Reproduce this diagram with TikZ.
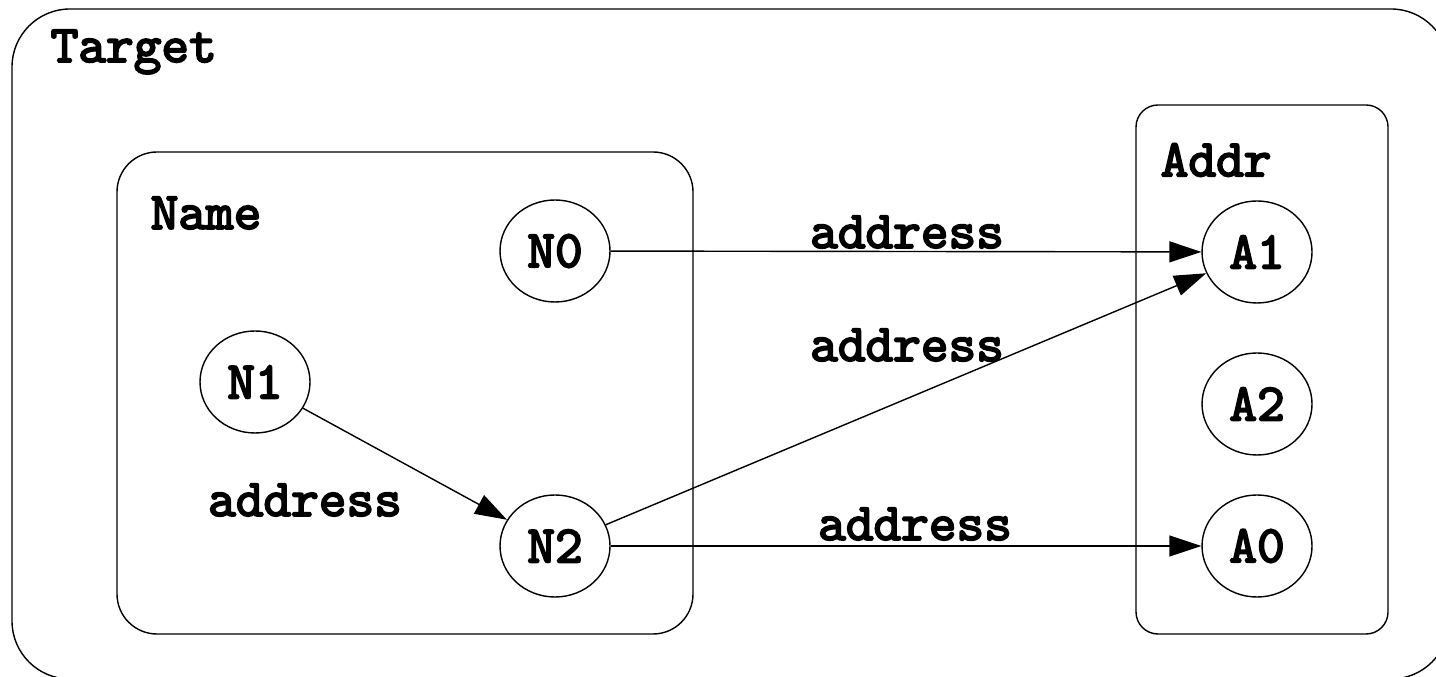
\documentclass[tikz,border=0pt]{standalone}
\usepackage{fontspec}
\newfontfamily\heavytt{lmmono10-regular.otf}[FakeBold=3.5]
\usetikzlibrary{arrows.meta,shapes.geometric}

\begin{document}
\begin{tikzpicture}[>={Triangle[length=3.2mm,width=2.1mm]},line width=.4pt,
  font=\heavytt\fontsize{15}{18}\selectfont,
  atom/.style={draw,ellipse,minimum width=1.1cm,minimum height=1.02cm,inner sep=0pt},
  tag/.style={anchor=west,inner sep=0pt},
  link/.style={->}]
 \useasboundingbox (0,0) rectangle (14.36,6.76);
 % signature boxes
 \draw[rounded corners=5.8mm] (0.12,-0.03) rectangle (14.49,6.67);
 \draw[rounded corners=4mm] (1.17,0.42) rectangle (6.93,5.24);
 \draw[rounded corners=2.2mm] (11.36,0.42) rectangle (13.88,5.71);
 \node[tag] (target) at (0.50,6.24) {Target};
 \node[tag] (name) at (1.50,4.63) {Name};
 \node[tag] (addr) at (11.60,5.16) {Addr};
 % atoms
 \node[atom] (N0) at (5.55,4.25) {N0};
 \node[atom] (N1) at (2.55,2.94) {N1};
 \node[atom] (N2) at (5.55,1.30) {N2};
 \node[atom] (A1) at (12.57,4.24) {A1};
 \node[atom] (A2) at (12.57,2.72) {A2};
 \node[atom] (A0) at (12.57,1.30) {A0};
 % address relation
 \draw[link] (N0) -- (A1);
 \draw[link] (N2) -- (A1);
 \draw[link] (N1) -- (N2);
 \draw[link] (N2) -- (A0);
 \node (a0) at (9.07,4.44) {address};
 \node (a1) at (9.07,3.31) {address};
 \node (a2) at (3.05,1.76) {address};
 \node (a3) at (9.15,1.52) {address};
\end{tikzpicture}
\end{document}
